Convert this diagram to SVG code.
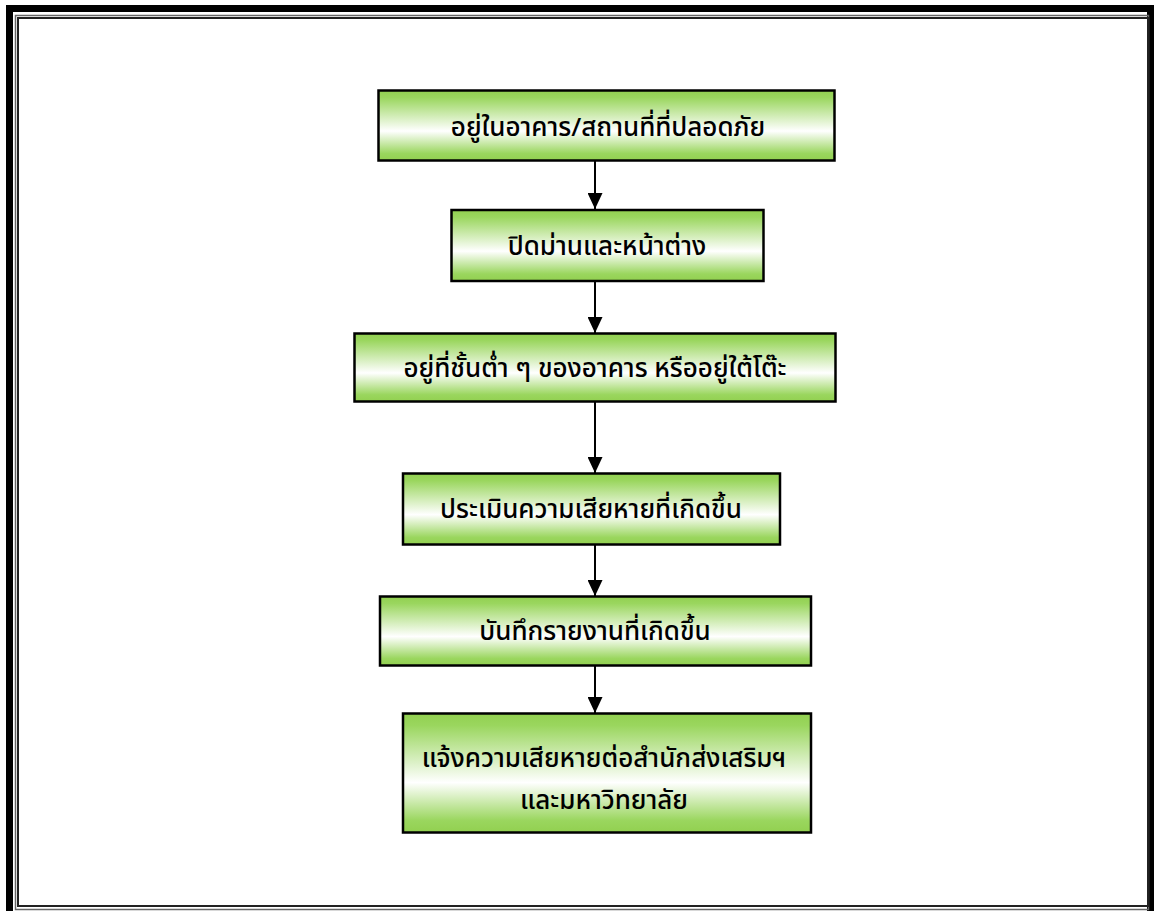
<svg xmlns="http://www.w3.org/2000/svg" width="1154" height="911" viewBox="0 0 1154 911">
  <style>
    .box { stroke: #000; stroke-width: 2.5; fill: url(#greenFade); }
    .label { font-family: "Noto Sans Thai", "Noto Sans", "DejaVu Sans", sans-serif; font-size: 26px; font-weight: 500; fill: #000; text-anchor: middle; }
    .link { stroke: #000; stroke-width: 2; fill: none; marker-end: url(#head); }
  </style>
  <defs>
    <linearGradient id="greenFade" x1="0" y1="0" x2="0" y2="1">
      <stop offset="0" stop-color="#92d050"/>
      <stop offset="0.1" stop-color="#9ad65e"/>
      <stop offset="0.58" stop-color="#ffffff"/>
      <stop offset="0.9" stop-color="#9ad65e"/>
      <stop offset="1" stop-color="#92d050"/>
    </linearGradient>
    <!-- arrowhead drawn along +x so orient="auto" turns it to follow the line -->
    <marker id="head" viewBox="0 0 16 15" refX="16" refY="7.5" markerWidth="16" markerHeight="15" markerUnits="userSpaceOnUse" orient="auto">
      <path d="M0,0 L16,7.5 L0,15 Z" fill="#000"/>
    </marker>
  </defs>

  <rect width="1154" height="911" fill="#fff"/>

  <!-- page frame: thick outer rule with a thin double rule inside -->
  <g id="frame" fill="none">
    <rect x="9.5" y="8.5" width="1141" height="910" stroke="#000" stroke-width="7"/>
    <rect x="15.5" y="15.5" width="1133" height="894" stroke="#666" stroke-width="1.5"/>
    <rect x="18" y="18" width="1130" height="888" stroke="#222" stroke-width="2"/>
  </g>

  <!-- connectors -->
  <g id="connectors">
    <line class="link" x1="595" y1="161" x2="595" y2="209"/>
    <line class="link" x1="595" y1="281" x2="595" y2="333"/>
    <line class="link" x1="595" y1="402" x2="595" y2="473"/>
    <line class="link" x1="595" y1="545" x2="595" y2="596"/>
    <line class="link" x1="595" y1="666" x2="595" y2="713"/>
  </g>

  <g id="step1">
    <rect class="box" x="378.5" y="90.5" width="456" height="70"/>
    <text class="label" x="608" y="136">อยู่ในอาคาร/สถานที่ที่ปลอดภัย</text>
  </g>
  <g id="step2">
    <rect class="box" x="451.5" y="210" width="312" height="71"/>
    <text class="label" x="607" y="255">ปิดม่านและหน้าต่าง</text>
  </g>
  <g id="step3">
    <rect class="box" x="354.5" y="333.5" width="481" height="68"/>
    <text class="label" x="595" y="377">อยู่ที่ชั้นต่ำ ๆ ของอาคาร หรืออยู่ใต้โต๊ะ</text>
  </g>
  <g id="step4">
    <rect class="box" x="403" y="473.5" width="377" height="71"/>
    <text class="label" x="591" y="518">ประเมินความเสียหายที่เกิดขึ้น</text>
  </g>
  <g id="step5">
    <rect class="box" x="380" y="596.5" width="431" height="69"/>
    <text class="label" x="595" y="640">บันทึกรายงานที่เกิดขึ้น</text>
  </g>
  <g id="step6">
    <rect class="box" x="403" y="713.5" width="408" height="119"/>
    <text class="label" x="604" y="767">แจ้งความเสียหายต่อสำนักส่งเสริมฯ</text>
    <text class="label" x="604" y="809">และมหาวิทยาลัย</text>
  </g>
</svg>
